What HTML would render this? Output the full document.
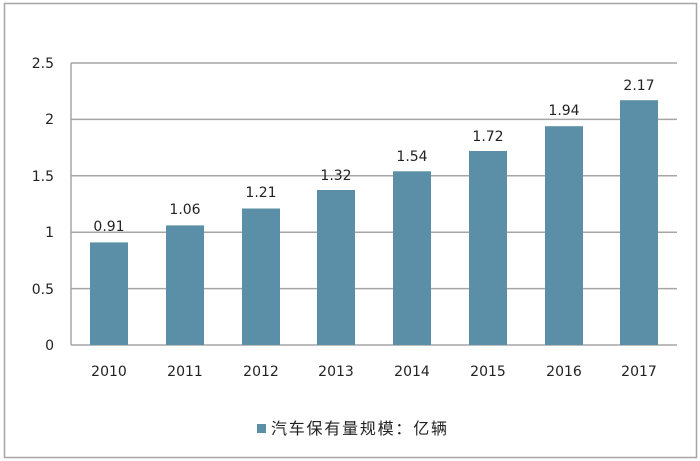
<!DOCTYPE html>
<html><head><meta charset="utf-8"><style>body{margin:0;background:#fff}svg{display:block}</style></head>
<body>
<svg width="700" height="461" xmlns="http://www.w3.org/2000/svg" font-family="DejaVu Sans, Liberation Sans, sans-serif">
<rect x="0" y="0" width="700" height="461" fill="#fff"/>
<rect x="4.5" y="3.5" width="692" height="454" fill="none" stroke="#a6a6a6" stroke-width="1.5"/>
<g stroke="#a6a6a6" stroke-width="1.5">
<line x1="71" y1="63" x2="677" y2="63"/>
<line x1="71" y1="119.4" x2="677" y2="119.4"/>
<line x1="71" y1="175.8" x2="677" y2="175.8"/>
<line x1="71" y1="232.2" x2="677" y2="232.2"/>
<line x1="71" y1="288.6" x2="677" y2="288.6"/>
<line x1="71" y1="345" x2="677" y2="345"/>
<line x1="71" y1="63" x2="71" y2="345"/>
</g>
<g font-size="14" fill="#222" text-anchor="end">
<text x="54" y="68">2.5</text><text x="54" y="124">2</text><text x="54" y="181">1.5</text>
<text x="54" y="237">1</text><text x="54" y="294">0.5</text><text x="54" y="350">0</text>
</g>
<g fill="#5b8fa7">
<rect x="90" y="242.4" width="38" height="102.6"/>
<rect x="166" y="225.4" width="38" height="119.6"/>
<rect x="242" y="208.5" width="38" height="136.5"/>
<rect x="317" y="190" width="38" height="155"/>
<rect x="393" y="171.3" width="38" height="173.7"/>
<rect x="469" y="151" width="38" height="194"/>
<rect x="545" y="126.2" width="38" height="218.8"/>
<rect x="620" y="100.2" width="38" height="244.8"/>
</g>
<g font-size="14" fill="#222" text-anchor="middle">
<text x="109" y="231">0.91</text><text x="185" y="214">1.06</text><text x="261" y="197">1.21</text>
<text x="336" y="180">1.32</text><text x="412" y="161">1.54</text><text x="488" y="141">1.72</text>
<text x="564" y="115">1.94</text><text x="639" y="90">2.17</text>
<text x="109" y="376">2010</text><text x="185" y="376">2011</text><text x="261" y="376">2012</text>
<text x="336" y="376">2013</text><text x="412" y="376">2014</text><text x="488" y="376">2015</text>
<text x="564" y="376">2016</text><text x="639" y="376">2017</text>
</g>
<rect x="257" y="424" width="9" height="9" fill="#5b8fa7"/>
<text x="271" y="434" font-size="16" fill="#222" textLength="176" font-family="Liberation Sans, Noto Sans CJK SC, sans-serif">汽车保有量规模：亿辆</text>
</svg>
</body></html>
